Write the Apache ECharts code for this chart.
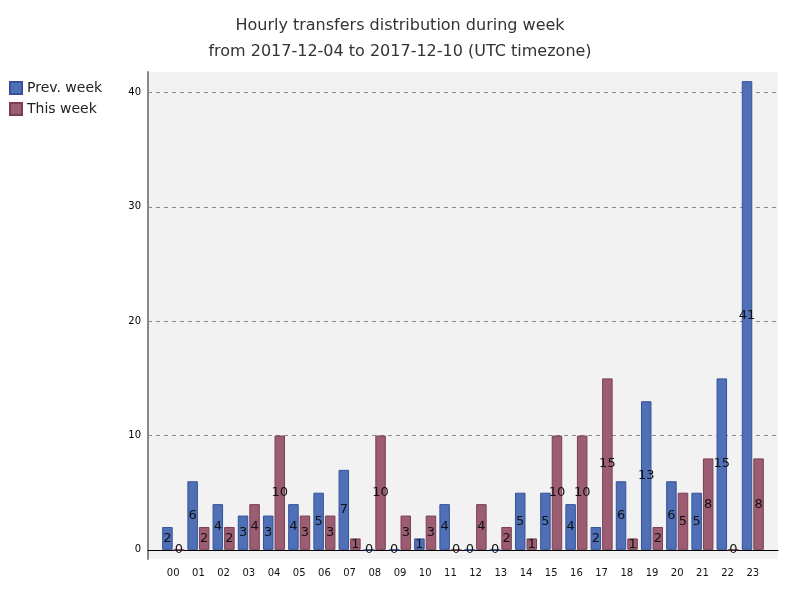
<!DOCTYPE html>
<html>
	<head>
		<meta charset="UTF-8">
		<title>Hourly transfers</title>
		<script src="https://cdn.jsdelivr.net/npm/echarts@6/dist/echarts.min.js"></script>
		<style>
			html, body { margin: 0; padding: 0; background: #fff; }
		</style>
	</head>
	<body>
		<div id="chart" style="width: 800px;height:600px;"></div>
	</body>
</html>

<script type="text/javascript">
	var hours = ['00','01','02','03','04','05','06','07','08','09','10','11',
	             '12','13','14','15','16','17','18','19','20','21','22','23'];
	var prevWeek = [2, 6, 4, 3, 3, 4, 5, 7, 0, 0, 1, 4, 0, 0, 5, 5, 4, 2, 6, 13, 6, 5, 15, 41];
	var thisWeek = [0, 2, 2, 4, 10, 3, 3, 1, 10, 3, 3, 0, 4, 2, 1, 10, 10, 15, 1, 2, 5, 8, 0, 8];

	// hour index on a value axis, so the plot keeps some padding on both sides
	function toPoints(arr) {
		return arr.map(function (v, i) { return [i, v]; });
	}

	var font = 'DejaVu Sans';

	var barLabel = {
		show: true,
		position: 'inside',
		color: '#111',
		fontSize: 13,
		fontFamily: font
	};

	var chart = echarts.init(document.getElementById('chart'));
	chart.setOption({
		animation: false,
		title: {
			text: 'Hourly transfers distribution during week\nfrom 2017-12-04 to 2017-12-10 (UTC timezone)',
			left: 'center',
			top: 8,
			textStyle: {
				fontFamily: font,
				fontSize: 16,
				fontWeight: 'normal',
				color: '#333',
				lineHeight: 26
			}
		},
		legend: {
			orient: 'vertical',
			left: 9,
			top: 81,
			padding: 0,
			itemWidth: 12,
			itemHeight: 12,
			itemGap: 7,
			icon: 'rect',
			textStyle: { fontFamily: font, fontSize: 14, color: '#222' },
			data: ['Prev. week', 'This week']
		},
		grid: {
			left: 148,
			right: 22,
			top: 72,
			bottom: 41,
			show: true,
			backgroundColor: '#f2f2f2',
			borderWidth: 0
		},
		xAxis: {
			type: 'value',
			min: -1,
			max: 24,
			interval: 1,
			axisLine: { onZero: true, lineStyle: { color: '#000', width: 1 } },
			axisTick: { show: false },
			splitLine: { show: false },
			axisLabel: {
				margin: 9,
				fontFamily: font,
				fontSize: 10,
				color: '#111',
				formatter: function (v) { return hours[v] || ''; }
			}
		},
		yAxis: {
			type: 'value',
			min: -0.8,
			max: 41.8,
			axisLine: { show: true, onZero: false, lineStyle: { color: '#888', width: 2 } },
			axisTick: { show: false },
			axisLabel: {
				margin: 7,
				fontFamily: font,
				fontSize: 10,
				color: '#000',
				showMinLabel: false,
				showMaxLabel: false
			},
			splitLine: {
				show: true,
				showMinLine: false,
				showMaxLine: false,
				lineStyle: { color: '#888', type: [4, 4], width: 1 }
			}
		},
		series: [
			{
				name: 'Prev. week',
				type: 'bar',
				barWidth: 10.5,
				barGap: '10%',
				data: toPoints(prevWeek),
				itemStyle: { color: '#4f6fb6', borderColor: '#34529a', borderWidth: 1 },
				label: barLabel
			},
			{
				name: 'This week',
				type: 'bar',
				barWidth: 10.5,
				barGap: '10%',
				data: toPoints(thisWeek),
				itemStyle: { color: '#9c5d72', borderColor: '#7a3f55', borderWidth: 1 },
				label: barLabel
			}
		]
	});
</script>
